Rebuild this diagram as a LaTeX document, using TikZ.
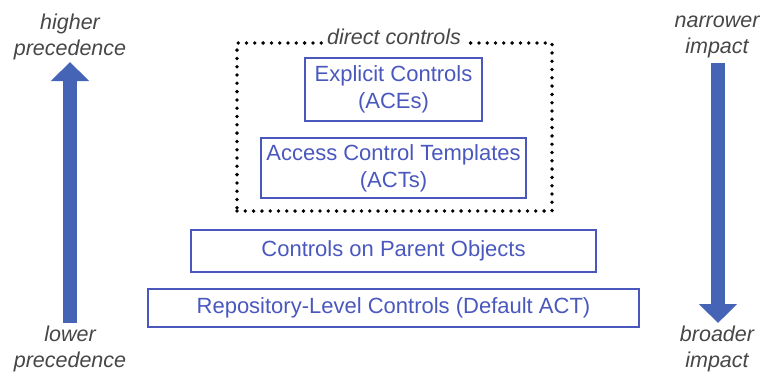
\documentclass[tikz,border=0pt]{standalone}
\usepackage{fontspec}
\setmainfont{Liberation Sans}
\usetikzlibrary{arrows.meta}
\definecolor{boxblue}{RGB}{74,88,190}
\definecolor{arrblue}{RGB}{70,100,182}
\tikzstyle{ctrl}=[draw=boxblue, line width=2pt, text=boxblue, align=center, font=\fontsize{22}{27}\selectfont]
\tikzstyle{lbl}=[align=center, text=black!72, font=\fontsize{21.5}{26}\selectfont\itshape]
\tikzstyle{bigarrow}=[arrblue, line width=14pt, -{Triangle[width=37pt,length=19pt]}]

\begin{document}
\begin{tikzpicture}[x=1pt, y=-1pt]
\useasboundingbox (0,0) rectangle (762,373);

% dotted group
\node[draw, line width=3.8pt, line cap=round, dash pattern=on 0pt off 8.3pt,
      minimum width=315pt, minimum height=168pt] (direct) at (394.5,127) {};
\node[lbl, fill=white, inner sep=3pt] (directlbl) at (394,37) {direct controls};

\node[ctrl, minimum width=177pt, minimum height=63pt] (ace) at (393.5,89) {Explicit Controls\\(ACEs)};
\node[ctrl, minimum width=265pt, minimum height=60pt] (act) at (393.5,168) {Access Control Templates\\(ACTs)};
\node[ctrl, minimum width=405pt, minimum height=42pt] (parent) at (393.5,251) {Controls on Parent Objects};
\node[ctrl, minimum width=491pt, minimum height=38pt] (repo) at (393.5,308) {Repository-Level Controls (Default ACT)};

% left side
\node[lbl] (high) at (70,37) {higher\\precedence};
\node[lbl] (low) at (70,349) {lower\\precedence};
\coordinate (lowend) at (70,323);
\coordinate (highend) at (70,62);
\draw[bigarrow] (lowend) -- (highend);

% right side
\node[lbl] (narrow) at (717,37) {narrower\\impact};
\node[lbl] (broad) at (717,349) {broader\\impact};
\coordinate (narrowend) at (718,63);
\coordinate (broadend) at (718,323);
\draw[bigarrow] (narrowend) -- (broadend);

\end{tikzpicture}
\end{document}
